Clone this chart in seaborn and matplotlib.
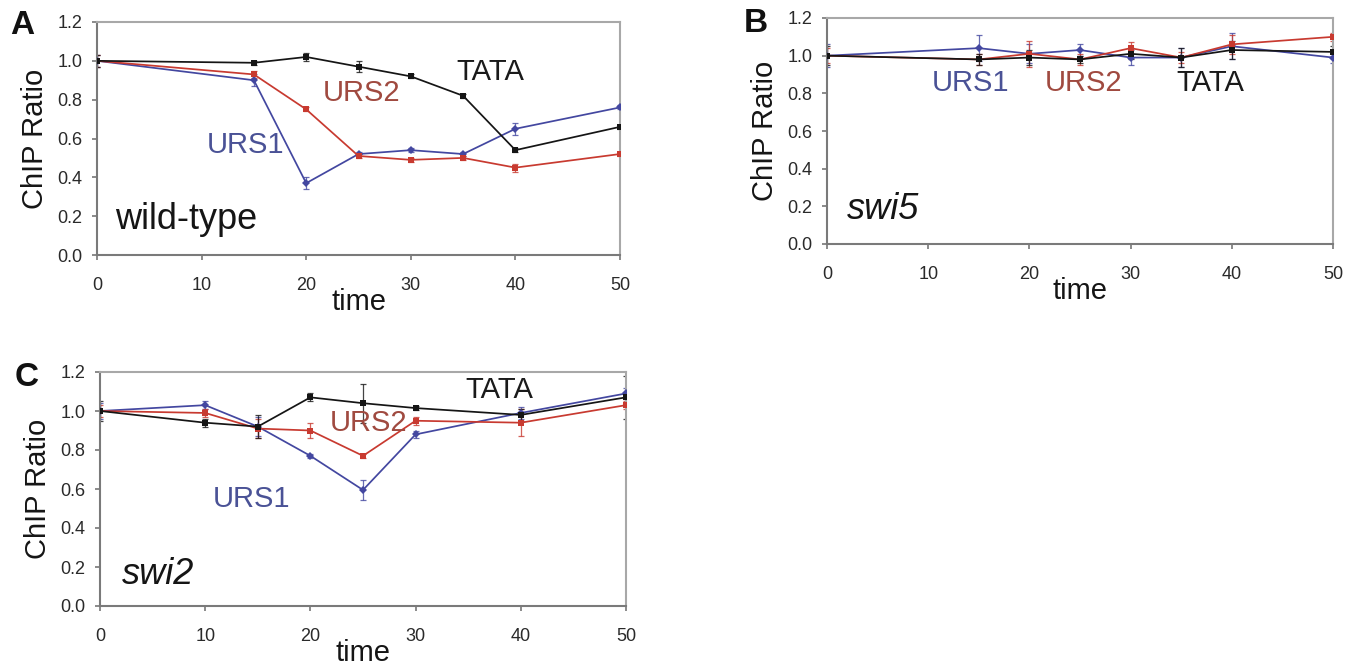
import numpy as np
import pandas as pd
import matplotlib
matplotlib.use("Agg")
import matplotlib.pyplot as plt
import seaborn as sns

# ---- data ----
time_A = [0, 15, 20, 25, 30, 35, 40, 50]
urs1_A = [1.00, 0.90, 0.37, 0.52, 0.54, 0.52, 0.65, 0.76]
urs2_A = [1.00, 0.93, 0.75, 0.51, 0.49, 0.50, 0.45, 0.52]
tata_A = [1.00, 0.99, 1.02, 0.97, 0.92, 0.82, 0.54, 0.66]
err_urs1_A = [0.03, 0.03, 0.03, 0.01, 0.01, 0.01, 0.03, 0.01]
err_urs2_A = [0.03, 0.02, 0.01, 0.01, 0.01, 0.01, 0.02, 0.01]
err_tata_A = [0.03, 0.01, 0.02, 0.03, 0.01, 0.01, 0.01, 0.01]

time_B = [0, 15, 20, 25, 30, 35, 40, 50]
urs1_B = [1.00, 1.04, 1.01, 1.03, 0.99, 0.99, 1.05, 0.99]
urs2_B = [1.00, 0.98, 1.01, 0.98, 1.04, 0.99, 1.06, 1.10]
tata_B = [1.00, 0.98, 0.99, 0.98, 1.01, 0.99, 1.03, 1.02]
err_urs1_B = [0.06, 0.07, 0.05, 0.03, 0.04, 0.05, 0.07, 0.03]
err_urs2_B = [0.04, 0.03, 0.07, 0.03, 0.03, 0.03, 0.05, 0.02]
err_tata_B = [0.05, 0.03, 0.04, 0.02, 0.03, 0.05, 0.05, 0.03]

time_C = [0, 10, 15, 20, 25, 30, 40, 50]
urs1_C = [1.00, 1.03, 0.92, 0.77, 0.595, 0.88, 0.99, 1.09]
urs2_C = [1.00, 0.99, 0.91, 0.90, 0.77, 0.95, 0.94, 1.03]
tata_C = [1.00, 0.94, 0.92, 1.07, 1.04, 1.015, 0.98, 1.07]
err_urs1_C = [0.04, 0.02, 0.05, 0.01, 0.05, 0.02, 0.03, 0.03]
err_urs2_C = [0.03, 0.02, 0.05, 0.04, 0.01, 0.02, 0.07, 0.02]
err_tata_C = [0.05, 0.02, 0.06, 0.02, 0.10, 0.01, 0.03, 0.11]

xticks = [0, 10, 20, 30, 40, 50]
yticks = [0.0, 0.2, 0.4, 0.6, 0.8, 1.0, 1.2]
series_names = ["URS1", "URS2", "TATA"]
colors = {"URS1": "#4347a0", "URS2": "#c83a30", "TATA": "#151515"}
text_colors = {"URS1": "#4a5296", "URS2": "#a04a40", "TATA": "#1a1a1a"}
markers = {"URS1": "D", "URS2": "s", "TATA": "s"}

sns.set_style("white")
plt.rcParams["font.family"] = ["Liberation Sans", "DejaVu Sans"]

W, H = 1352, 670
fig = plt.figure(figsize=(W / 100, H / 100), dpi=100)


def px_rect(l, t, r, b):
    return [l / W, 1 - b / H, (r - l) / W, (b - t) / H]


panels = [
    dict(rect=px_rect(97, 22, 620, 255), t=time_A,
         vals={"URS1": urs1_A, "URS2": urs2_A, "TATA": tata_A},
         errs={"URS1": err_urs1_A, "URS2": err_urs2_A, "TATA": err_tata_A},
         letter="A", letter_xy=(22, 26), strain="wild-type", italic=False,
         labels={"TATA": (37.6, 0.943), "URS2": (25.3, 0.835), "URS1": (14.2, 0.567)},
         strain_xy=(1.7, 0.185)),
    dict(rect=px_rect(827, 18, 1333, 244), t=time_B,
         vals={"URS1": urs1_B, "URS2": urs2_B, "TATA": tata_B},
         errs={"URS1": err_urs1_B, "URS2": err_urs2_B, "TATA": err_tata_B},
         letter="B", letter_xy=(756, 24), strain="swi5", italic=True,
         labels={"URS1": (14.2, 0.855), "URS2": (25.4, 0.855), "TATA": (37.9, 0.855)},
         strain_xy=(2.0, 0.185)),
    dict(rect=px_rect(100, 372, 626, 606), t=time_C,
         vals={"URS1": urs1_C, "URS2": urs2_C, "TATA": tata_C},
         errs={"URS1": err_urs1_C, "URS2": err_urs2_C, "TATA": err_tata_C},
         letter="C", letter_xy=(27, 377), strain="swi2", italic=True,
         labels={"TATA": (38.0, 1.11), "URS2": (25.5, 0.94), "URS1": (14.4, 0.55)},
         strain_xy=(2.1, 0.16)),
]

for p in panels:
    ax = fig.add_axes(p["rect"])
    rows = []
    for s in series_names:
        for tt, v in zip(p["t"], p["vals"][s]):
            rows.append({"time": tt, "value": v, "series": s})
    df = pd.DataFrame(rows)
    for s in series_names:
        ax.errorbar(p["t"], p["vals"][s], yerr=p["errs"][s], fmt="none",
                    ecolor=colors[s], elinewidth=0.9, capsize=2, capthick=0.9,
                    alpha=0.8, zorder=2)
    sns.lineplot(data=df, x="time", y="value", hue="series", style="series",
                 palette=colors, markers=markers, dashes=False, linewidth=1.25,
                 markersize=4.5, markeredgewidth=0, legend=False, ax=ax, zorder=3)
    ax.set_xlim(0, 50)
    ax.set_ylim(0, 1.2)
    ax.set_xticks(xticks)
    ax.set_xticklabels([str(v) for v in xticks])
    ax.set_yticks(yticks)
    ax.set_yticklabels([f"{v:.1f}" for v in yticks])
    ax.tick_params(axis="both", direction="out", length=3.6, width=1.2, color="#777777",
                   labelsize=13, labelcolor="#2a2a2a")
    ax.tick_params(axis="x", pad=12)
    ax.tick_params(axis="y", pad=7)
    ax.tick_params(bottom=True, left=True)
    for sp in ["left", "bottom"]:
        ax.spines[sp].set_color("#7a7a7a")
        ax.spines[sp].set_linewidth(1.5)
    for sp in ["top", "right"]:
        ax.spines[sp].set_color("#a8a8a8")
        ax.spines[sp].set_linewidth(1.5)
    ax.set_xlabel("time", fontsize=21, labelpad=-4, color="#151515")
    ax.set_ylabel("ChIP Ratio", fontsize=21, labelpad=6, color="#151515")
    for s, (lx, ly) in p["labels"].items():
        ax.text(lx, ly, s, fontsize=21, color=text_colors[s], ha="center", va="center")
    ax.text(p["strain_xy"][0], p["strain_xy"][1], p["strain"], fontsize=26,
            style="italic" if p["italic"] else "normal", color="#151515",
            ha="left", va="center")
    fig.text(p["letter_xy"][0] / W, 1 - p["letter_xy"][1] / H, p["letter"],
             fontsize=24, fontweight="bold", ha="center", va="center", color="#111111")

fig.savefig("out.png", dpi=100)
